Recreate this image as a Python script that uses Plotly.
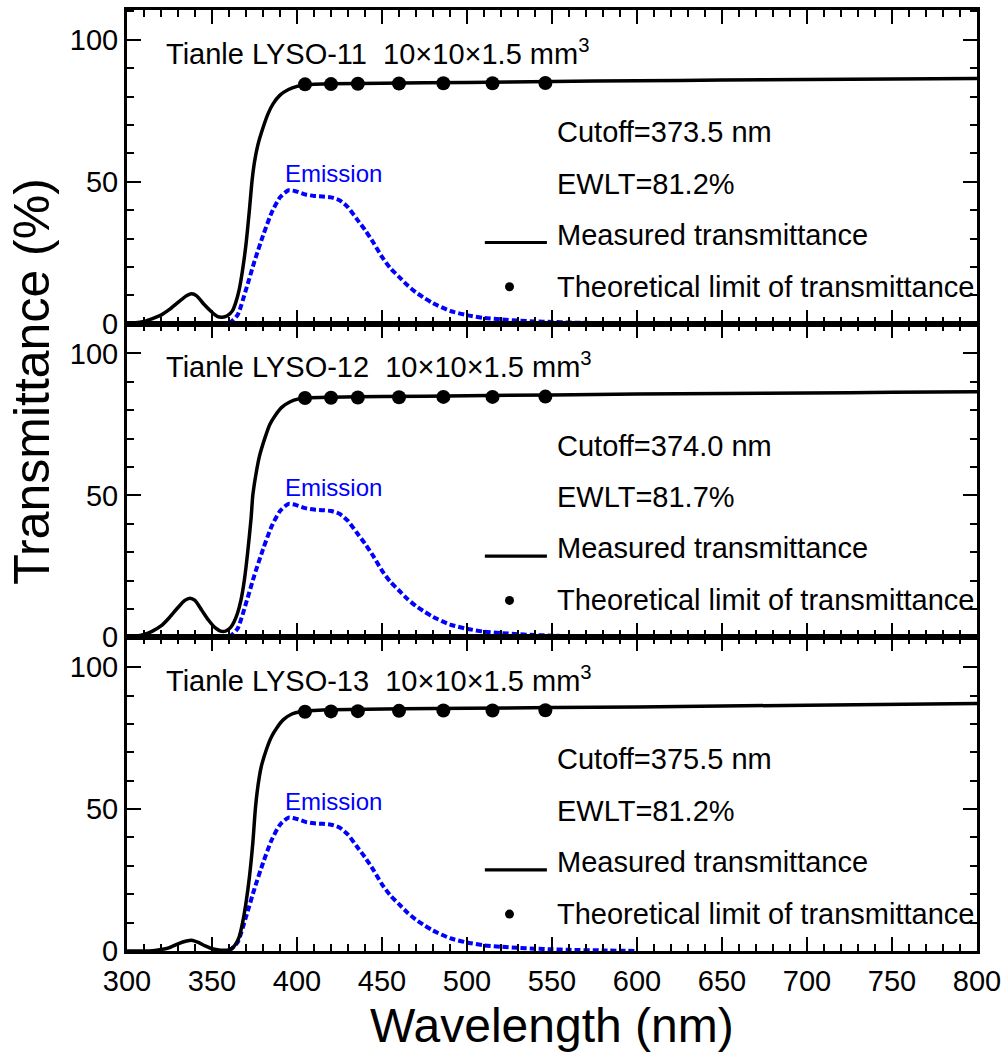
import plotly.graph_objects as go
from plotly.subplots import make_subplots

# ---- measured transmittance, Tianle LYSO-11 ----
wl_11 = [300, 305, 310, 315, 320, 325, 330, 335, 338, 341, 345, 350, 353, 356, 359,
         362, 364, 366, 368, 370, 372, 373.5, 375, 377, 380, 383, 386, 390, 395, 400,
         405, 410, 420, 450, 500, 550, 600, 650, 700, 750, 800]
t_11 = [0.2, 0.3, 0.8, 1.8, 3.0, 5.0, 7.5, 9.8, 10.5, 9.8, 7.0, 4.0, 2.6, 2.3, 2.8,
        4.5, 7.5, 12.0, 19.0, 28.0, 40.0, 50.0, 57.0, 63.0, 69.0, 74.0, 77.5, 80.5, 82.5, 83.6,
        84.1, 84.3, 84.5, 84.7, 85.0, 85.3, 85.6, 85.8, 86.0, 86.2, 86.4]

# ---- measured transmittance, Tianle LYSO-12 ----
wl_12 = [300, 305, 310, 315, 320, 325, 330, 334, 337, 340, 344, 348, 352, 355, 358,
         361, 363, 365, 367, 369, 371, 373, 374, 376, 378, 381, 384, 387, 391, 396,
         401, 406, 420, 450, 500, 550, 600, 650, 700, 750, 800]
t_12 = [0.2, 0.4, 1.0, 2.2, 4.0, 7.0, 10.5, 13.0, 13.8, 13.0, 9.5, 6.0, 3.3, 2.2, 2.2,
        3.5, 5.5, 8.5, 13.0, 20.0, 30.0, 42.0, 50.0, 58.0, 64.0, 70.0, 75.0, 78.0, 81.0, 83.0,
        84.0, 84.4, 84.6, 84.8, 85.1, 85.4, 85.7, 85.9, 86.1, 86.3, 86.5]

# ---- measured transmittance, Tianle LYSO-13 ----
wl_13 = [300, 310, 315, 320, 325, 330, 335, 338, 342, 346, 350, 355, 359,
         362, 364, 366, 368, 370, 372, 374, 375.5, 377, 379, 382, 385, 388, 392, 397,
         402, 410, 420, 500, 600, 700, 800]
t_13 = [0.0, 0.0, 0.1, 0.5, 1.2, 2.5, 3.5, 3.8, 3.0, 1.8, 0.8, 0.3, 0.3,
        1.0, 2.5, 5.0, 10.0, 17.0, 26.0, 38.0, 50.0, 58.0, 65.0, 71.0, 75.5, 78.5, 81.5, 83.5,
        84.3, 84.7, 85.0, 85.5, 86.0, 86.6, 87.2]

# ---- theoretical limit of transmittance ----
theory_wl = [404.7, 420.0, 435.8, 460.0, 486.1, 515.0, 546.1]
theory_11 = [84.3, 84.4, 84.5, 84.6, 84.7, 84.7, 84.8]
theory_12 = [84.3, 84.4, 84.5, 84.6, 84.7, 84.7, 84.8]
theory_13 = [84.3, 84.4, 84.5, 84.6, 84.7, 84.7, 84.8]

# ---- LYSO emission spectrum (arbitrary scale) ----
em_wl = [360, 365, 370, 375, 380, 385, 390, 395, 400, 405, 410, 415, 420, 425, 430,
         435, 440, 445, 450, 455, 460, 465, 470, 475, 480, 490, 500, 510, 520, 530,
         540, 550, 560, 580, 600]
em_val = [0.0, 3.0, 12.0, 22.0, 31.0, 39.0, 44.5, 47.0, 46.5, 45.5, 45.0, 44.8, 44.5, 43.5, 41.0,
          37.0, 33.0, 28.5, 23.5, 19.5, 16.5, 13.5, 11.0, 9.0, 7.2, 4.5, 3.0, 2.0, 1.5, 1.1,
          0.8, 0.6, 0.4, 0.2, 0.0]

samples = ["Tianle LYSO-11", "Tianle LYSO-12", "Tianle LYSO-13"]
cutoffs = ["373.5", "374.0", "375.5"]
ewlts = ["81.2", "81.7", "81.2"]
x_ticks = [300, 350, 400, 450, 500, 550, 600, 650, 700, 750, 800]
y_ticks = [0, 50, 100]

curves = [(wl_11, t_11, theory_11), (wl_12, t_12, theory_12), (wl_13, t_13, theory_13)]

FONT = "Liberation Sans, Arial, sans-serif"
BLUE = "#0000ff"

fig = make_subplots(rows=3, cols=1, shared_xaxes=True, vertical_spacing=0)

for i, (wl, tv, th) in enumerate(curves):
    row = i + 1
    fig.add_trace(go.Scatter(x=em_wl, y=em_val, mode="lines",
                             line=dict(color=BLUE, width=4, dash="6px,3px", shape="spline", smoothing=0.6),
                             showlegend=False, hoverinfo="skip"), row=row, col=1)
    fig.add_trace(go.Scatter(x=wl, y=tv, mode="lines",
                             line=dict(color="black", width=3.5, shape="spline", smoothing=0.6),
                             showlegend=False), row=row, col=1)
    fig.add_trace(go.Scatter(x=theory_wl, y=th, mode="markers",
                             marker=dict(color="black", size=14),
                             showlegend=False), row=row, col=1)
    # in-panel key: line sample and dot sample
    fig.add_trace(go.Scatter(x=[510.5, 547], y=[28.6, 28.6], mode="lines",
                             line=dict(color="black", width=3.2), showlegend=False,
                             hoverinfo="skip"), row=row, col=1)
    fig.add_trace(go.Scatter(x=[525], y=[13.0], mode="markers",
                             marker=dict(color="black", size=9), showlegend=False,
                             hoverinfo="skip"), row=row, col=1)

    xref = "x" if row == 1 else f"x{row}"
    yref = "y" if row == 1 else f"y{row}"
    texts = [
        (322.0, 95.8, f"{samples[i]}  10×10×1.5 mm<sup>3</sup>", 29, "black"),
        (551.5, 67.5, f"Cutoff={cutoffs[i]} nm", 29, "black"),
        (551.5, 49.3, f"EWLT={ewlts[i]}%", 29, "black"),
        (551.5, 31.3, "Measured transmittance", 29, "black"),
        (551.5, 13.0, "Theoretical limit of transmittance", 29, "black"),
        (391.5, 52.8, "Emission", 24, BLUE),
    ]
    for tx, ty, txt, fs, col in texts:
        fig.add_annotation(x=tx, y=ty, xref=xref, yref=yref, text=txt, showarrow=False,
                           xanchor="left", yanchor="middle",
                           font=dict(family=FONT, size=fs, color=col))

axis_common = dict(showline=True, linewidth=3, linecolor="black", mirror="allticks",
                   ticks="inside", ticklen=14, tickwidth=2, tickcolor="black",
                   showgrid=False, zeroline=False, automargin=False,
                   tickfont=dict(family=FONT, size=29, color="black"))

for row in range(1, 4):
    fig.update_xaxes(range=[300, 800], tickvals=x_ticks,
                     minor=dict(dtick=10, tick0=300, ticks="inside", ticklen=7,
                                tickwidth=2, tickcolor="black", showgrid=False),
                     **axis_common, row=row, col=1)
    fig.update_yaxes(range=[0, 110.5], tickvals=y_ticks,
                     minor=dict(dtick=10, tick0=0, ticks="inside", ticklen=7,
                                tickwidth=2, tickcolor="black", showgrid=False),
                     **axis_common, row=row, col=1)

fig.update_xaxes(ticklabelstandoff=2, row=3, col=1)

# axis titles
fig.add_annotation(text="Wavelength (nm)", xref="paper", yref="paper", x=0.5, y=0,
                   yanchor="middle", yshift=-74, showarrow=False,
                   font=dict(family=FONT, size=48, color="black"))
fig.add_annotation(text="Transmittance (%)", xref="paper", yref="paper", x=0, y=0.605,
                   xanchor="center", yanchor="middle", xshift=-95, textangle=-90,
                   showarrow=False, font=dict(family=FONT, size=50, color="black"))

fig.update_layout(width=1004, height=1054,
                  margin=dict(l=127, r=27, t=10, b=103, autoexpand=False),
                  paper_bgcolor="white", plot_bgcolor="white",
                  font=dict(family=FONT, color="black"))

fig.write_html("out.html")
